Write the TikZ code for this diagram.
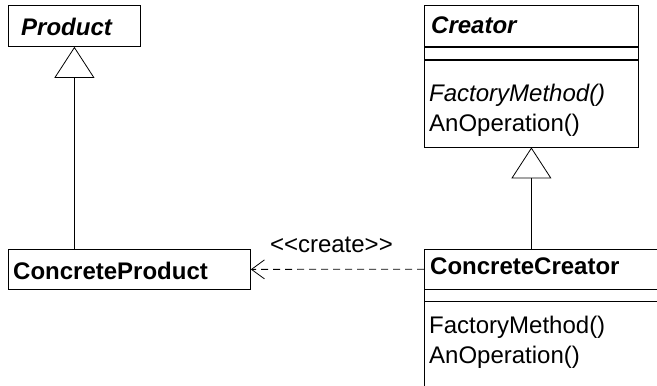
\documentclass[tikz,border=0pt]{standalone}
\usepackage{fontspec}
\setmainfont{Liberation Sans}
\usetikzlibrary{arrows.meta,positioning}
\tikzset{
  classbox/.style={draw, line width=0.8pt, anchor=north west, inner sep=0pt},
  openbox/.style={anchor=north west, inner sep=0pt},
  classtext/.style={anchor=base west, inner sep=0pt},
  inherit/.style={line width=0.8pt, -{Triangle[open,length=31pt,width=40pt]}},
  depend/.style={line width=0.8pt, dash pattern=on 7pt off 5pt, -{Straight Barb[length=13pt,width=19pt]}}
}
\begin{document}
\begin{tikzpicture}[x=1pt,y=-1pt,font=\fontsize{24}{30}\selectfont]
  \useasboundingbox (0,0) rectangle (657,386);

  %Product
  \node[classbox, minimum width=132pt, minimum height=41pt] (prod) at (8,5) {};
  \node[classtext] (prodname) at ([xshift=13pt,yshift=-30pt]prod.north west) {\textbf{\textit{Product}}};

  %ConcreteProduct
  \node[classbox, minimum width=242pt, minimum height=40pt] (cprod) at (8,249) {};
  \node[classtext] (cprodname) at ([xshift=5pt,yshift=-30pt]cprod.north west) {\textbf{ConcreteProduct}};

  %Creator
  \node[classbox, minimum width=214pt, minimum height=41pt] (creator) at (424,5) {};
  \node[classtext] (creatorname) at ([xshift=7pt,yshift=-28pt]creator.north west) {\textbf{\textit{Creator}}};
  \node[classbox, minimum width=214pt, minimum height=12pt] (cattr) at (creator.south west) {};
  \node[classbox, minimum width=214pt, minimum height=87pt] (cmeth) at (cattr.south west) {};
  \node[classtext] (cop1) at ([xshift=5pt,yshift=-42pt]cmeth.north west) {\textit{FactoryMethod()}};
  \node[classtext] (cop2) at ([xshift=5pt,yshift=-72pt]cmeth.north west) {AnOperation()};

  %ConcreteCreator (runs off the right and bottom edge)
  \node[openbox, minimum width=233pt, minimum height=40pt] (ccreator) at (424,249) {};
  \node[openbox, minimum width=233pt, minimum height=12pt] (ccattr) at (ccreator.south west) {};
  \node[openbox, minimum width=233pt, minimum height=85pt] (ccmeth) at (ccattr.south west) {};
  \draw[line width=0.8pt] (ccreator.north east) -- (ccreator.north west) -- (ccmeth.south west);
  \draw[line width=0.8pt] (ccattr.north west) -- (ccattr.north east);
  \draw[line width=0.8pt] (ccmeth.north west) -- (ccmeth.north east);
  \node[classtext] (ccreatorname) at ([xshift=6pt,yshift=-25pt]ccreator.north west) {\textbf{ConcreteCreator}};
  \node[classtext] (ccop1) at ([xshift=5pt,yshift=-32pt]ccmeth.north west) {FactoryMethod()};
  \node[classtext] (ccop2) at ([xshift=5pt,yshift=-62pt]ccmeth.north west) {AnOperation()};

  %relations
  \draw[inherit] (prod.south |- cprod.north) -- (prod.south);
  \draw[inherit] (cmeth.south |- ccreator.north) -- (cmeth.south);
  \draw[depend] (ccreator.west) -- (cprod.east)
    node[midway, anchor=base, yshift=17pt, xshift=-6pt] (createlbl) {<{}<create>{}>};
\end{tikzpicture}
\end{document}
